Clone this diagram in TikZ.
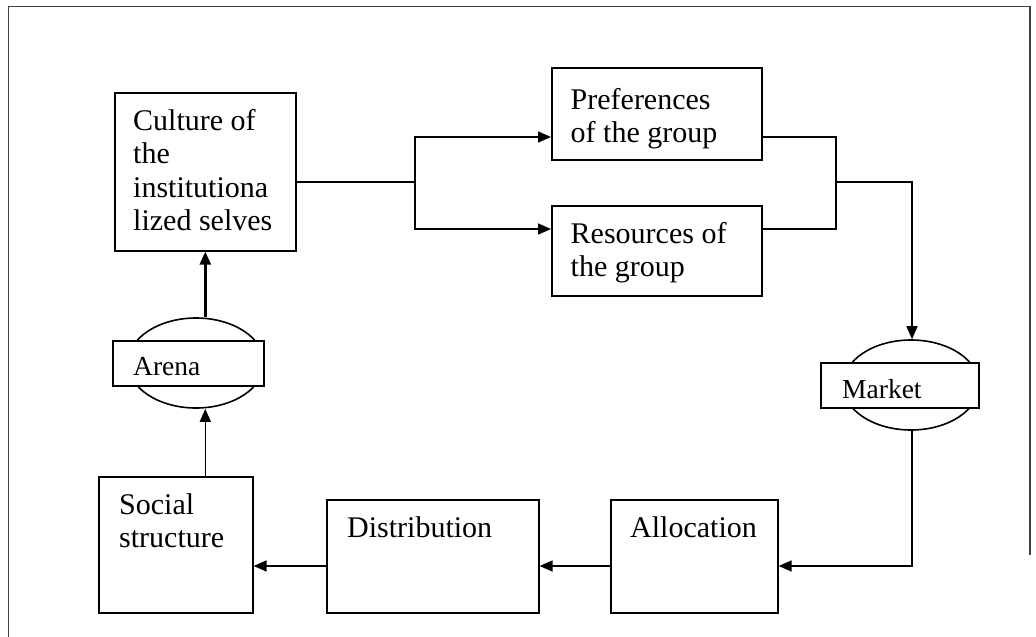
\documentclass[tikz,border=0pt]{standalone}
\usepackage{fontspec}
\setmainfont{Liberation Serif}
\usetikzlibrary{arrows.meta,shapes.geometric,calc}
\begin{document}
\begin{tikzpicture}[x=1pt,y=-1pt,
  box/.style={draw,line width=1.6pt,inner sep=0pt,anchor=north west},
  oval/.style={draw,ellipse,line width=1.6pt,inner sep=0pt,minimum width=136pt,minimum height=90pt},
  tag/.style={draw,fill=white,line width=1.6pt,inner sep=0pt,minimum height=45pt},
  txt/.style={anchor=base west,inner sep=0pt,font=\fontsize{30}{33.5}\selectfont},
  smalltxt/.style={anchor=base west,inner sep=0pt,font=\fontsize{27.5}{30}\selectfont},
  link/.style={line width=1.6pt},
  arr/.style={line width=1.6pt,-{Triangle[length=13pt,width=11pt]}},
  frame/.style={line width=1.8pt,black!75}]
\useasboundingbox (0,0) rectangle (1036,637);

% page frame
\draw[frame] (1030,555) -- (1030,6.5) -- (8.5,6.5) -- (8.5,637);

% boxes
\node[box,minimum width=181pt,minimum height=158pt] (cult) at (114,92) {};
\node[box,minimum width=210pt,minimum height=92pt]  (pref) at (551,67) {};
\node[box,minimum width=210pt,minimum height=90pt]  (res)  at (551,205) {};
\node[box,minimum width=154pt,minimum height=136pt] (soc)  at (98,476) {};
\node[box,minimum width=212pt,minimum height=113pt] (dist) at (326,499) {};
\node[box,minimum width=167pt,minimum height=113pt] (alloc) at (610,499) {};

% box texts
\node[txt] (cultT) at (133,130) {\begin{tabular}[t]{@{}l@{}}Culture of\\the\\institutiona\\lized selves\end{tabular}};
\node[txt] (prefT) at (570.5,109) {\begin{tabular}[t]{@{}l@{}}Preferences\\of the group\end{tabular}};
\node[txt] (resT)  at (570.5,243) {\begin{tabular}[t]{@{}l@{}}Resources of\\the group\end{tabular}};
\node[txt] (socT)  at (119,514) {\begin{tabular}[t]{@{}l@{}}Social\\structure\end{tabular}};
\node[txt] (distT) at (347,537) {Distribution};
\node[txt] (allocT) at (630,537) {Allocation};

% arena and market: ellipse behind a labelled strip
\node[oval] (arenaE) at (196,363) {};
\node[tag,minimum width=151pt] (arenaR) at (188.5,363.5) {};
\node[smalltxt] (arenaT) at (133,375) {Arena};

\node[oval] (marketE) at (911,385) {};
\node[tag,minimum width=158pt] (marketR) at (900,385.5) {};
\node[smalltxt] (marketT) at (842,398) {Market};

% junction points
\coordinate (jl)  at (415,182);
\coordinate (jlp) at (415,137);
\coordinate (jlr) at (415,229);
\coordinate (jr)  at (836,182);
\coordinate (jrp) at (836,137);
\coordinate (jrr) at (836,229);
\coordinate (low) at (912,566);

% culture splits into preferences and resources
\draw[link] (cult.east |- jl) -- (jl);
\draw[arr] (jl) -- (jlp) -- (jlp -| pref.west);
\draw[arr] (jl) -- (jlr) -- (jlr -| res.west);

% preferences and resources join towards the market
\draw[link] (jrp -| pref.east) -- (jrp) -- (jrr) -- (jrr -| res.east);
\draw[arr] (jr) -- (jr -| low) -- (marketE.north -| low);

% market down to allocation, then leftwards
\draw[arr] (marketE.south -| low) -- (low) -- (low -| alloc.east);
\draw[arr] (low -| alloc.west) -- (low -| dist.east);
\draw[arr] (low -| dist.west) -- (low -| soc.east);

% social structure up through the arena to culture
\draw[line width=1.3pt,-{Triangle[length=13pt,width=11pt]}] (soc.north -| cult.south) -- (arenaE.south -| cult.south);
\draw[line width=2.4pt,-{Triangle[length=13pt,width=11pt]}] (arenaE.north -| cult.south) -- (cult.south);
\end{tikzpicture}
\end{document}
